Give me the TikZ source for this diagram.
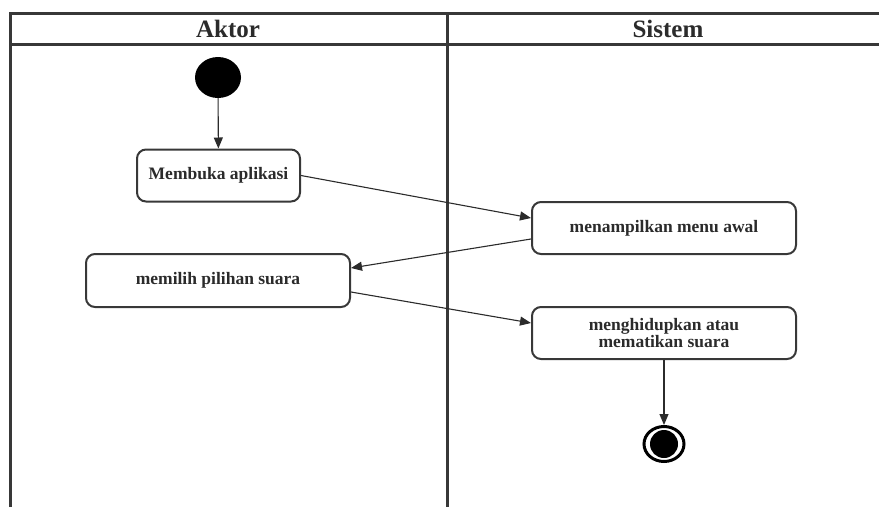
\documentclass[tikz,border=0pt]{standalone}
\usepackage{fontspec}
\setmainfont{Liberation Serif}
\usetikzlibrary{arrows.meta,shapes.geometric}

\definecolor{ink}{HTML}{2B2B2B}
\definecolor{rule}{HTML}{383838}

\tikzset{
  lane/.style={draw=rule, line width=3pt},
  lanetitle/.style={text=ink, font=\bfseries\fontsize{25}{28}\selectfont, inner sep=0pt},
  action/.style={draw=rule, line width=2pt, rounded corners=9pt, fill=white,
    text=ink, font=\bfseries\fontsize{17.5}{15}\selectfont, align=center,
    inner sep=0pt, minimum height=52pt},
  flow/.style={draw=ink, line width=1.1pt, -{Triangle[length=11pt,width=9pt]}},
  initial/.style={ellipse, fill=black, draw=none, minimum width=46pt, minimum height=41pt, inner sep=0pt},
  final/.style={ellipse, draw=black, line width=3pt, fill=white, minimum width=40pt,
    minimum height=35pt, inner sep=0pt,
    path picture={\fill[black] (path picture bounding box.center) ellipse (14pt and 14pt);}}
}

\begin{document}
\begin{tikzpicture}[x=1pt, y=-1pt]
  \useasboundingbox (0,0) rectangle (879,507);

  % swimlane frame
  \draw[lane, line join=miter] (10,507) -- (10,13) -- (879,13);
  \draw[lane] (10,44) -- (879,44);
  \draw[lane] (447.5,13) -- (447.5,507);

  % lane titles
  \node[lanetitle] (aktor) at (228,29) {Aktor};
  \node[lanetitle] (sistem) at (668,29) {Sistem};

  % activity nodes
  \node[initial] (start) at (218,77.5) {};
  \node[action, minimum width=163pt] (membuka) at (218.5,175.5) {Membuka aplikasi};
  \node[action, minimum width=264pt] (menu) at (664,228) {menampilkan menu awal};
  \node[action, minimum width=264pt, minimum height=53pt] (pilih) at (218,280.5) {memilih pilihan suara};
  \node[action, minimum width=264pt] (suara) at (664,333) {menghidupkan atau\\mematikan suara};
  \node[final] (end) at (664,444) {};

  % control flow
  \draw[flow] (start) -- (membuka);
  \draw[flow] (membuka.east) -- ([yshift=10pt]menu.west);
  \draw[flow] ([yshift=-11pt]menu.west) -- ([yshift=12.5pt]pilih.east);
  \draw[flow] ([yshift=-11.5pt]pilih.east) -- ([yshift=10pt]suara.west);
  \draw[flow] (suara) -- (end);
\end{tikzpicture}
\end{document}
